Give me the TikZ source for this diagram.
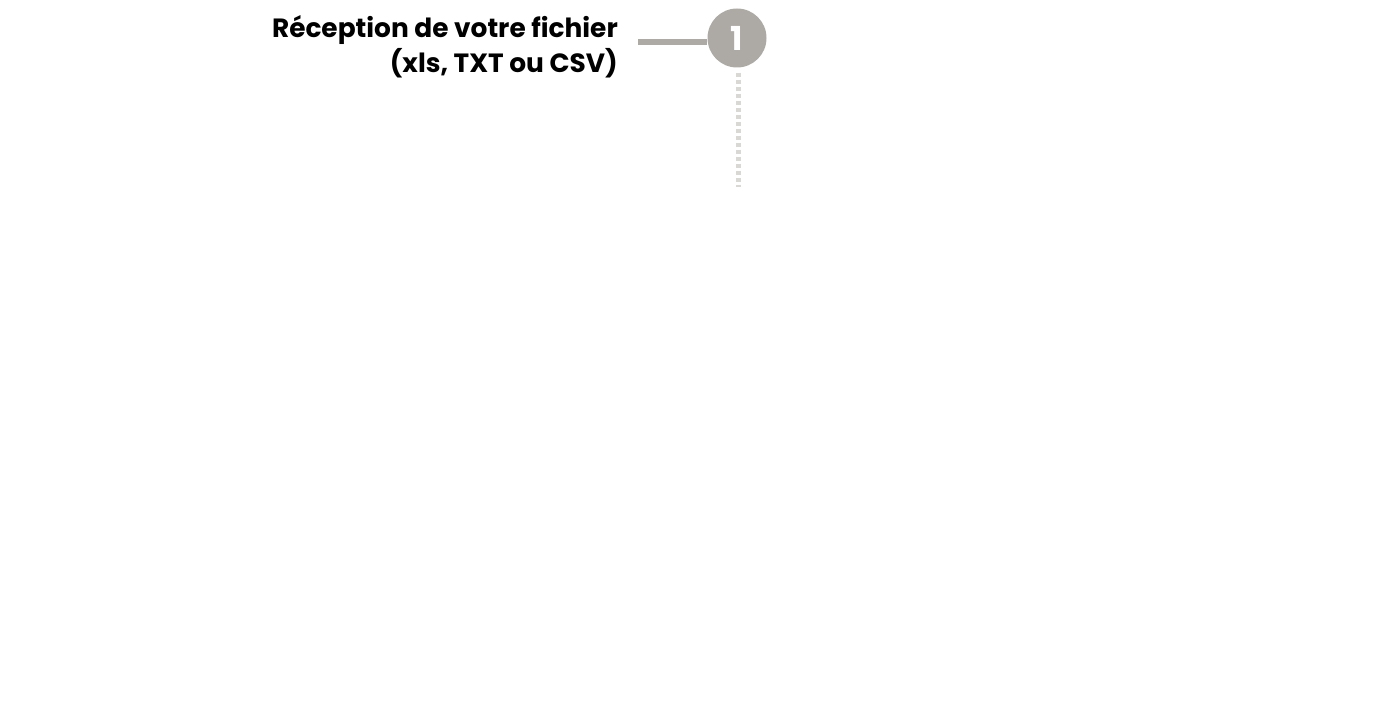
\documentclass[tikz,border=0pt]{standalone}
\usepackage{fontspec}
\setmainfont{Poppins}[BoldFont={* Bold}]
\definecolor{stepgray}{HTML}{ADA9A5}
\definecolor{dotgray}{HTML}{DAD8D4}
\begin{document}
\begin{tikzpicture}[x=1pt,y=-1pt,
  stepnum/.style={circle,fill=stepgray,minimum size=59pt,inner sep=0pt,text=white,font=\bfseries\fontsize{33}{33}\selectfont},
  steplabel/.style={anchor=north east,align=right,inner sep=0pt,font=\bfseries\fontsize{26.4}{35}\selectfont},
  link/.style={draw=stepgray,line width=6pt},
  dots/.style={draw=dotgray,line width=5pt,dash pattern=on 4pt off 3pt}]
\useasboundingbox (0,0) rectangle (1373,717);
\node[stepnum] (n1) at (737,38) {1};
\node[steplabel] (t1) at (618,15) {Réception de votre fichier\\(xls, TXT ou CSV)};
\coordinate (l1) at (638,42);
\coordinate (d1) at (738,187);
\draw[link] (l1) -- (l1 -| n1.west);
\draw[dots] ([yshift=-5pt]n1.south -| d1) -- (d1);
\end{tikzpicture}
\end{document}
